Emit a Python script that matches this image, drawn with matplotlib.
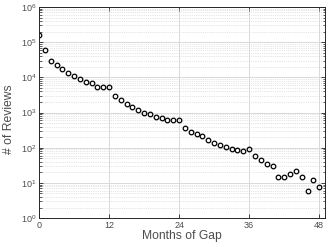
import matplotlib
matplotlib.use("Agg")
from matplotlib import pyplot as plt
from matplotlib.ticker import FixedLocator, NullFormatter

plt.rcParams['font.family'] = ['Liberation Sans', 'DejaVu Sans']

# months of gap and review counts
months = list(range(49))
reviews = [
    157000, 60000, 30000, 22000, 17400, 13300, 11200, 9200, 7400, 6800,
    5300, 5300, 5300, 3000, 2200, 1750, 1410, 1160, 980, 930,
    750, 716, 615, 630, 630, 373, 280, 242, 216, 170,
    134, 120, 108, 91, 85, 81, 94, 58, 46, 34,
    30, 14.8, 14.8, 17.7, 21.4, 14.4, 5.8, 12.4, 7.9,
]
x_ticks = [0, 12, 24, 36, 48]
y_ticks = [10 ** k for k in range(7)]

axis_col = (0.15, 0.15, 0.15)
text_col = (0.3, 0.3, 0.3)

fig = plt.figure(figsize=(3.28, 2.47), dpi=100)
ax = fig.add_axes([0.119, 0.117, 0.872, 0.855])

ax.plot(months, reviews, linestyle='none', marker='o', markersize=3.3,
        markerfacecolor='none', markeredgecolor='black', markeredgewidth=0.9)

ax.set_yscale('log')
ax.set_xlim(0, 49)
ax.set_ylim(1, 1e6)
ax.set_xticks(x_ticks)
ax.set_yticks(y_ticks)
# minor ticks 2..9 inside each decade
minor = [m * d for d in y_ticks[:-1] for m in range(2, 10)]
ax.yaxis.set_minor_locator(FixedLocator(minor))
ax.yaxis.set_minor_formatter(NullFormatter())

ax.grid(True, which='major', color=(0.85, 0.85, 0.85), linewidth=0.7, linestyle='-')
ax.grid(True, which='minor', axis='y', color=(0.8, 0.8, 0.8), linewidth=0.5, linestyle=':')

ax.tick_params(which='both', direction='in', top=True, right=True,
               colors=axis_col, labelcolor=text_col, labelsize=6.5, pad=2)
ax.tick_params(which='major', length=3, width=0.6)
ax.tick_params(which='minor', length=1.8, width=0.5)
for side in ax.spines.values():
    side.set_color(axis_col)
    side.set_linewidth(0.7)

ax.set_xlabel('Months of Gap', fontsize=8.7, color=text_col, labelpad=0)
ax.set_ylabel('# of Reviews', fontsize=8.7, color=text_col, labelpad=1)
ax.yaxis.set_label_coords(-0.085, 0.47)

fig.savefig('out.png', dpi=100)
plt.close(fig)
